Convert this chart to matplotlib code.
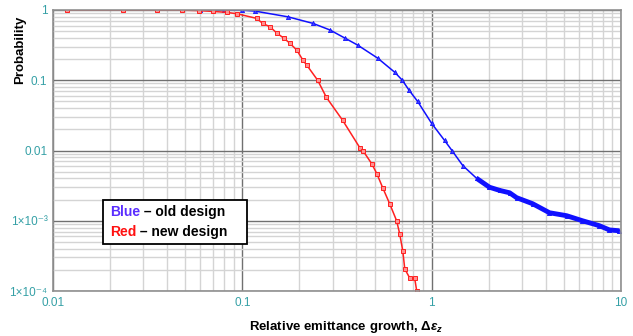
import matplotlib
matplotlib.use("Agg")
import matplotlib.pyplot as plt
from matplotlib.patches import Rectangle
from matplotlib.ticker import LogLocator, FixedLocator, FixedFormatter, NullFormatter

plt.rcParams['font.family'] = ['Liberation Sans', 'DejaVu Sans']
plt.rcParams['mathtext.fontset'] = 'custom'
plt.rcParams['mathtext.rm'] = 'Liberation Sans:bold'
plt.rcParams['mathtext.it'] = 'Liberation Sans:italic:bold'
plt.rcParams['mathtext.bf'] = 'Liberation Sans:bold'

# old design (blue)
blue_x = [0.06, 0.08, 0.1, 0.116, 0.174, 0.236, 0.29, 0.347, 0.407, 0.519, 0.638,
          0.70, 0.76, 0.843, 1.0, 1.17, 1.28, 1.46, 1.73, 2.02, 2.29, 2.58, 2.81,
          3.41, 4.19, 5.16, 6.26, 7.69, 8.69, 9.8]
blue_p = [1.0, 1.0, 0.995, 0.967, 0.80, 0.645, 0.52, 0.40, 0.316, 0.206, 0.13,
          0.1, 0.072, 0.05, 0.0243, 0.0139, 0.01, 0.0061, 0.004, 0.003, 0.0027, 0.0025, 0.00213,
          0.00175, 0.0013, 0.00118, 0.001, 0.00085, 0.00074, 0.00072]

# new design (red)
red_x = [0.0119, 0.0234, 0.0354, 0.048, 0.059, 0.0698, 0.0828, 0.0935, 0.119, 0.128,
         0.14, 0.152, 0.165, 0.178, 0.194, 0.209, 0.219, 0.25, 0.278, 0.339, 0.417,
         0.433, 0.482, 0.513, 0.551, 0.60, 0.653, 0.678, 0.704, 0.721, 0.766, 0.813, 0.834]
red_p = [1.0, 1.0, 1.0, 0.995, 0.98, 0.955, 0.925, 0.885, 0.76, 0.645,
         0.577, 0.47, 0.40, 0.338, 0.268, 0.193, 0.164, 0.1, 0.057, 0.0268, 0.011,
         0.01, 0.0065, 0.0047, 0.00296, 0.00175, 0.001, 0.00065, 0.00037, 0.000206, 0.000153, 0.000153, 0.0001]

x_ticks = [0.01, 0.1, 1, 10]
x_ticklabels = ["0.01", "0.1", "1", "10"]
y_ticks = [1e-4, 1e-3, 0.01, 0.1, 1]
y_ticklabels = ["1\u00d710\u207b\u2074", "1\u00d710\u207b\u00b3", "0.01", "0.1", "1"]

teal = "#35a0a6"

fig = plt.figure(figsize=(6.33, 3.36), dpi=100)
ax = fig.add_axes([53 / 633, 45 / 336, 568 / 633, 281 / 336])
ax.set_xscale('log')
ax.set_yscale('log')
ax.set_xlim(0.01, 10)
ax.set_ylim(1e-4, 1)

ax.xaxis.set_major_locator(FixedLocator(x_ticks))
ax.xaxis.set_major_formatter(FixedFormatter(x_ticklabels))
ax.yaxis.set_major_locator(FixedLocator(y_ticks))
ax.yaxis.set_major_formatter(FixedFormatter(y_ticklabels))
ax.xaxis.set_minor_locator(LogLocator(base=10, subs=range(2, 10)))
ax.yaxis.set_minor_locator(LogLocator(base=10, subs=range(2, 10)))
ax.xaxis.set_minor_formatter(NullFormatter())
ax.yaxis.set_minor_formatter(NullFormatter())

ax.grid(which='major', color='#707070', lw=1.0)
ax.grid(which='minor', color='#d4d4d4', lw=1.0)
ax.set_axisbelow(True)
ax.tick_params(which='both', length=0, labelsize=8.5, labelcolor=teal, pad=4)
for s in ax.spines.values():
    s.set_color('#909090')
    s.set_linewidth(1.2)

ax.plot(blue_x, blue_p, color='#1010ff', lw=1.1, marker='^', ms=3, mfc='#4040ff', mec='#1010ff', mew=0.6)
tail = [i for i, v in enumerate(blue_x) if v >= 1.6]
ax.plot([blue_x[i] for i in tail], [blue_p[i] for i in tail], color='#1010ff', lw=3.5, solid_capstyle='butt')
ax.plot(red_x, red_p, color='#ff2020', lw=1.1, marker='s', ms=3.5, mfc='#ff9090', mec='#ff2020', mew=0.7)

# legend box
ax.add_patch(Rectangle((0.088, 0.166), 0.2535, 0.158, transform=ax.transAxes,
                       facecolor='white', edgecolor='black', lw=1.3, zorder=5))
t1 = ax.text(0.1, 0.28, "Blue", color='#5a2dff', fontsize=10, fontweight='bold',
             va='center', ha='left', transform=ax.transAxes, zorder=6)
ax.annotate(" \u2013 old design", xy=(1, 0.5), xycoords=t1, va='center', ha='left',
            fontsize=10, fontweight='bold', color='black', zorder=6)
t2 = ax.text(0.1, 0.21, "Red", color='#ff1010', fontsize=10, fontweight='bold',
             va='center', ha='left', transform=ax.transAxes, zorder=6)
ax.annotate(" \u2013 new design", xy=(1, 0.5), xycoords=t2, va='center', ha='left',
            fontsize=10, fontweight='bold', color='black', zorder=6)

fig.text(20 / 633, 1 - 50 / 336, "Probability", rotation=90, fontsize=9.5,
         fontweight='bold', ha='center', va='center')
fig.text(346 / 633, 1 - 327 / 336, r"Relative emittance growth, $\mathit{\Delta\varepsilon_z}$",
         fontsize=9.5, fontweight='bold', ha='center', va='center')

fig.savefig("out.png", dpi=100)
